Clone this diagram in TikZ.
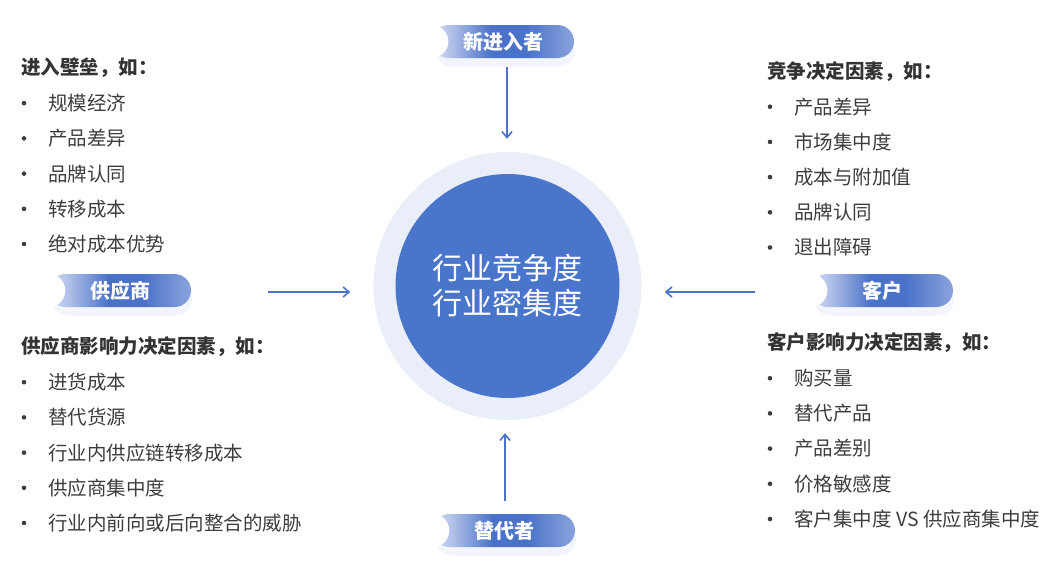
\documentclass[tikz,border=0pt]{standalone}
\usepackage{fontspec}
\setmainfont{Noto Sans CJK SC}
\usetikzlibrary{arrows.meta,calc}
\definecolor{coreblue}{HTML}{4975CB}
\definecolor{ringblue}{HTML}{E9EEF9}
\definecolor{flowblue}{HTML}{4A72C8}
\definecolor{pilllight}{HTML}{D6DEF4}
\definecolor{pillmid}{HTML}{AFBFE8}
\definecolor{pilldark}{HTML}{4A72C8}
\definecolor{pillend}{HTML}{8AA3DC}
\definecolor{headgray}{HTML}{333333}
\definecolor{itemgray}{HTML}{3D3D3D}
\definecolor{glow}{HTML}{F3F5FC}
\pgfdeclarehorizontalshading{pillshade}{100bp}{color(0bp)=(pilllight); color(25bp)=(pilllight); color(32bp)=(pillmid); color(46bp)=(pilldark); color(58bp)=(pilldark); color(75bp)=(pillend); color(100bp)=(pillend)}
% pill label: name, centre, text
\newcommand\forcepill[3]{%
  \fill[glow, rounded corners=16pt] ($(#2)+(-68,-8)$) rectangle ($(#2)+(72,25)$);
  \node[pill] (#1) at (#2) {#3};
  \fill[white] (#1.west) circle (16.5pt);
}
\tikzset{
  ring/.style={circle, fill=ringblue, minimum size=268pt, inner sep=0pt},
  core/.style={circle, fill=coreblue, minimum size=224pt, inner sep=0pt, text=white, align=center, font=\fontsize{30}{35}\selectfont},
  pill/.style={rounded corners=16.5pt, shading=pillshade, minimum width=142pt, minimum height=33pt, inner sep=0pt, text=white, font=\fontsize{20}{24}\selectfont\bfseries},
  head/.style={anchor=west, inner sep=0pt, text=headgray, font=\fontsize{19.5}{23}\selectfont\bfseries},
  item/.style={anchor=west, inner sep=0pt, text=itemgray, font=\fontsize{19.5}{23}\selectfont},
  dot/.style={fill=itemgray},
  flow/.style={draw=flowblue, line width=1.6pt, -{Straight Barb[length=6pt,width=10pt]}},
}
\begin{document}
\begin{tikzpicture}[x=1pt, y=-1pt]
	\useasboundingbox (0,0) rectangle (1062,562);
	
	%%%%% centre %%%%%
	\node[ring] (ring) at (507.5,286) {};
	\node[core] (core) at (507.5,286) {行业竞争度\\行业密集度};
	
	%%%%% forces %%%%%
	\forcepill{entrant}{503,41.5}{新进入者}
	\forcepill{supplier}{120,290.5}{供应商}
	\forcepill{customer}{882,290.5}{客户}
	\forcepill{substitute}{504,530.5}{替代者}
	
	\coordinate (entrantin) at (507,67);
	\coordinate (supplierin) at (268,292);
	\coordinate (customerin) at (755,292);
	\coordinate (substitutein) at (505,501);
	\draw[flow, shorten >=13pt] (entrantin) -- (entrantin |- ring.north);
	\draw[flow, shorten >=23pt] (supplierin) -- (supplierin -| ring.west);
	\draw[flow, shorten >=23pt] (customerin) -- (customerin -| ring.east);
	\draw[flow, shorten >=13pt] (substitutein) -- (substitutein |- ring.south);
	
	%%%%% lists %%%%%
	\node[head] (entryhead) at (21,68) {进入壁垒，如：};
	\foreach \txt [count=\i] in {规模经济,产品差异,品牌认同,转移成本,绝对成本优势}{
		\fill[dot] (24,{68+35.2*\i}) circle (2.3pt);
		\node[item] (entry\i) at (48,{68+35.2*\i}) {\txt};
	}
	
	\node[head] (supplyhead) at (21,347) {供应商影响力决定因素，如：};
	\foreach \txt [count=\i] in {进货成本,替代货源,行业内供应链转移成本,供应商集中度,行业内前向或后向整合的威胁}{
		\fill[dot] (24,{347+35.2*\i}) circle (2.3pt);
		\node[item] (supply\i) at (48,{347+35.2*\i}) {\txt};
	}
	
	\node[head] (rivalhead) at (767,71.5) {竞争决定因素，如：};
	\foreach \txt [count=\i] in {产品差异,市场集中度,成本与附加值,品牌认同,退出障碍}{
		\fill[dot] (770,{71.5+35.2*\i}) circle (2.3pt);
		\node[item] (rival\i) at (794,{71.5+35.2*\i}) {\txt};
	}
	
	\node[head] (buyhead) at (767,343) {客户影响力决定因素，如：};
	\foreach \txt [count=\i] in {购买量,替代产品,产品差别,价格敏感度,客户集中度 VS 供应商集中度}{
		\fill[dot] (770,{343+35.2*\i}) circle (2.3pt);
		\node[item] (buy\i) at (794,{343+35.2*\i}) {\txt};
	}
\end{tikzpicture}
\end{document}
